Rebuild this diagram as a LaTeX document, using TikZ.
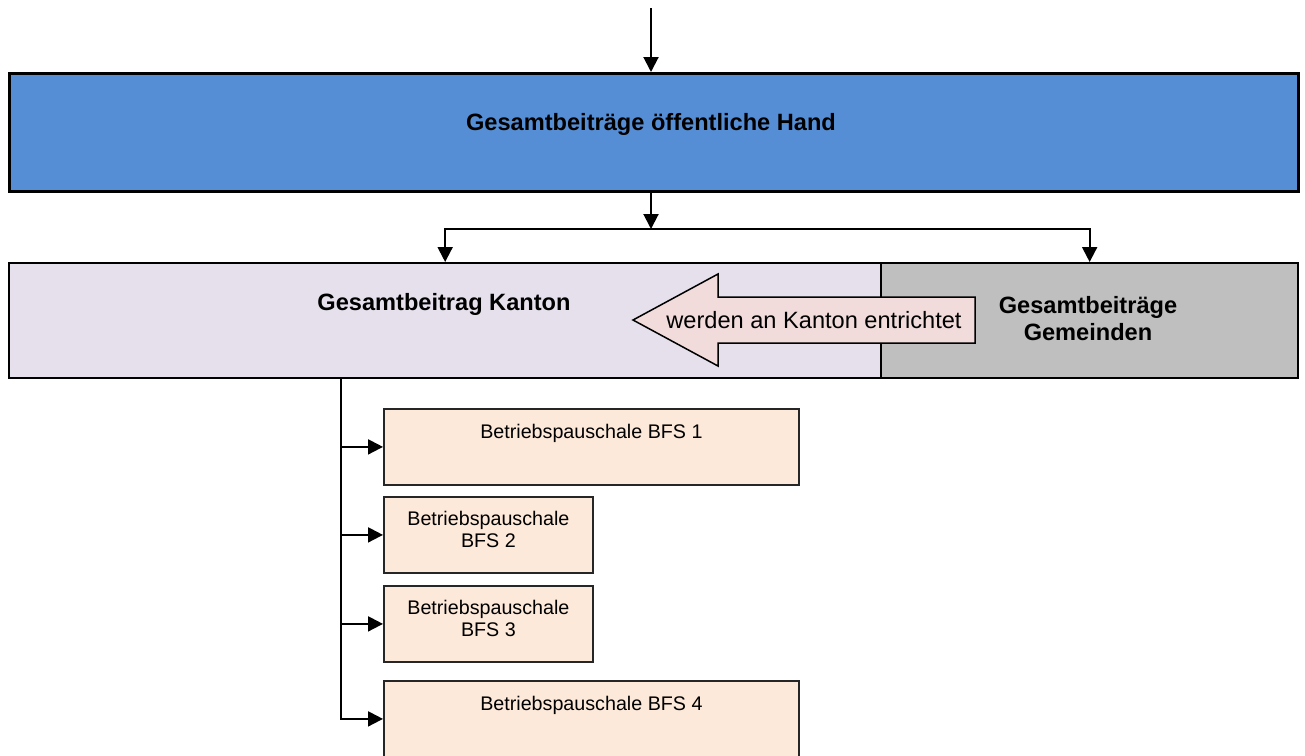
\documentclass[tikz,border=0pt]{standalone}
\usepackage{fontspec}
\setmainfont{Liberation Sans}
\usetikzlibrary{arrows.meta}
\definecolor{hblue}{HTML}{558ED5}
\definecolor{kanton}{HTML}{E6E0EC}
\definecolor{gem}{HTML}{BFBFBF}
\definecolor{pinkarrow}{HTML}{F2DCDB}
\definecolor{peach}{HTML}{FDE9D9}
\tikzset{
  bigbox/.style={draw=black, line width=2.3pt, inner sep=0pt, anchor=north west},
  bfsbox/.style={draw=black!85, fill=peach, line width=1.8pt, inner sep=0pt, anchor=north west},
  boldtxt/.style={font=\fontsize{23.6}{27}\selectfont\bfseries, align=center, inner sep=0pt},
  bfstxt/.style={font=\fontsize{19.7}{22.5}\selectfont, align=center, inner sep=0pt, anchor=north},
  conn/.style={line width=2pt, -{Triangle[length=15pt,width=15pt]}},
}
\begin{document}
\begin{tikzpicture}[x=1pt,y=-1pt]
\clip (0,0) rectangle (1305,755);
\fill[white] (0,0) rectangle (1305,755);
% top box
\node[bigbox, fill=hblue, line width=2.8pt, minimum width=1289pt, minimum height=118pt] (hand) at (8,72) {};
\node[boldtxt] (handtxt) at (651,124) {Gesamtbeiträge öffentliche Hand};
\coordinate (top) at (651,8);
\draw[conn] (top) -- (hand.north -| top);
% second row
\node[bigbox, fill=kanton, minimum width=872pt, minimum height=115pt] (kanton) at (8,262) {};
\node[bigbox, fill=gem, minimum width=417pt, minimum height=115pt] (gem) at (880,262) {};
\node[boldtxt] (kantontxt) at (444,304) {Gesamtbeitrag Kanton};
\node[boldtxt] (gemtxt) at (1088,319) {Gesamtbeiträge\\Gemeinden};
\coordinate (split) at (651,229);
\draw[conn] (hand.south -| top) -- (split);
\draw[conn] (split) -| (kanton.north);
\draw[conn] (split) -| (gem.north);
% block arrow
\draw[fill=pinkarrow, line width=1.5pt, line join=miter]
  (633,320) -- (718,274) -- (718,297) -- (975,297) -- (975,343) -- (718,343) -- (718,366) -- cycle;
\node[font=\fontsize{23.6}{28}\selectfont, inner sep=0pt] (arrowtxt) at (814,320) {werden an Kanton entrichtet};
% BFS boxes
\node[bfsbox, minimum width=415pt, minimum height=76pt] (bfs1) at (383,408) {};
\node[bfsbox, minimum width=209pt, minimum height=76pt] (bfs2) at (383,496) {};
\node[bfsbox, minimum width=209pt, minimum height=76pt] (bfs3) at (383,585) {};
\node[bfsbox, minimum width=415pt, minimum height=76pt] (bfs4) at (383,680) {};
\node[bfstxt] (t1) at ([yshift=-16pt]bfs1.north) {Betriebspauschale BFS 1};
\node[bfstxt] (t2) at ([yshift=-15pt]bfs2.north) {Betriebspauschale\\BFS 2};
\node[bfstxt] (t3) at ([yshift=-15pt]bfs3.north) {Betriebspauschale\\BFS 3};
\node[bfstxt] (t4) at ([yshift=-16pt]bfs4.north) {Betriebspauschale BFS 4};
\coordinate (trunk) at (341,377);
\draw[conn] (trunk) |- (bfs1.west);
\draw[conn] (trunk) |- (bfs2.west);
\draw[conn] (trunk) |- (bfs3.west);
\draw[conn] (trunk) |- (bfs4.west);
\end{tikzpicture}
\end{document}
